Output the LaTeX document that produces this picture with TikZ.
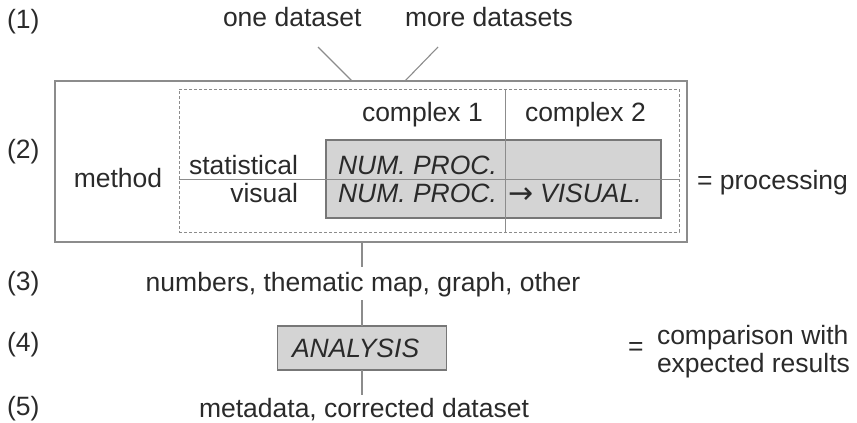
\documentclass[tikz,border=0pt]{standalone}
\usepackage{fontspec}
\setmainfont{Liberation Sans}
\newfontfamily\arrowfont{DejaVu Sans}
\definecolor{txt}{HTML}{2A2A2A}
\definecolor{linegray}{HTML}{8C8C8C}
\definecolor{boxgray}{HTML}{777777}
\definecolor{fillgray}{HTML}{D4D4D4}
\begin{document}
\begin{tikzpicture}[x=1pt,y=-1pt,
  every node/.style={inner sep=0pt, outer sep=0pt, text=txt, font=\fontsize{26.5}{28}\selectfont},
  lw/.style={anchor=base west},
  le/.style={anchor=base east},
  lc/.style={anchor=base},
  conn/.style={draw=linegray, line width=1.1pt},
  outerbox/.style={draw=linegray, line width=2pt, anchor=north west},
  dashbox/.style={draw=linegray, line width=1pt, dash pattern=on 3pt off 2pt, anchor=north west},
  procbox/.style={draw=boxgray, fill=fillgray, line width=1.5pt, anchor=north west},
  it/.style={font=\fontsize{26.5}{28}\selectfont\itshape}
]
\useasboundingbox (0,0) rectangle (857,423);

% row labels
\node[lw] (r1) at (7,28) {(1)};
\node[lw] (r2) at (7,158) {(2)};
\node[lw] (r3) at (7,290) {(3)};
\node[lw] (r4) at (7,351) {(4)};
\node[lw] (r5) at (7,415) {(5)};

% row 1
\node[lw] (one) at (223,27) {one dataset};
\node[lw] (more) at (405,27) {more datasets};

% boxes
\node[outerbox, minimum width=632pt, minimum height=161pt] (outer) at (55,81) {};
\node[dashbox, minimum width=500pt, minimum height=143pt] (dash) at (179,89) {};
\node[procbox, minimum width=335pt, minimum height=78pt] (proc) at (326,140) {};

% grid lines
\coordinate (dv) at (505,89);
\coordinate (hl) at (179,179);
\draw[conn, line width=0.9pt] (dv |- dash.north) -- (dv |- dash.south);
\draw[conn, line width=0.9pt] (hl -| dash.west) -- (hl -| dash.east);

% connectors from top
\coordinate (a1) at (318,47);
\coordinate (a2) at (438,47);
\coordinate (b1) at (352,81);
\coordinate (b2) at (405,81);
\draw[conn] (a1) -- (b1 |- outer.north);
\draw[conn] (a2) -- (b2 |- outer.north);

% texts in box
\node[lw] (c1) at (362,121) {complex 1};
\node[lw] (c2) at (525,121) {complex 2};
\node[le] (stat) at (298,174) {statistical};
\node[le] (vis) at (298,202) {visual};
\node[lw, it] (np1) at (338,174) {NUM. PROC.};
\node[lw, it] (np2) at (338,202) {NUM. PROC.};
\node[lw, it] (vz) at (508,202) {\raisebox{-1pt}{\arrowfont\upshape\fontsize{30}{30}\selectfont →}\hspace{7pt}VISUAL.};
\node[lc] (meth) at (118,187) {method};
\node[lw] (eqp) at (697,189) {= processing};

% lower part
\node[lc] (nums) at (363,291) {numbers, thematic map, graph, other};
\node[procbox, minimum width=169pt, minimum height=44pt] (an) at (277.5,326) {};
\node[lw, it] (antext) at (292,357) {ANALYSIS};
\node[lw] (eqa) at (628,355) {=};
\node[lw] (cmp1) at (657,344) {comparison with};
\node[lw] (cmp2) at (657,372) {expected results};
\node[lc] (meta) at (364,417) {metadata, corrected dataset};

\coordinate (g1) at (362,267);
\coordinate (g2) at (362,300);
\coordinate (g3) at (362,395);
\draw[conn] (outer.south -| an.north) -- (g1);
\draw[conn] (g2) -- (an.north);
\draw[conn] (an.south) -- (g3);
\end{tikzpicture}
\end{document}
